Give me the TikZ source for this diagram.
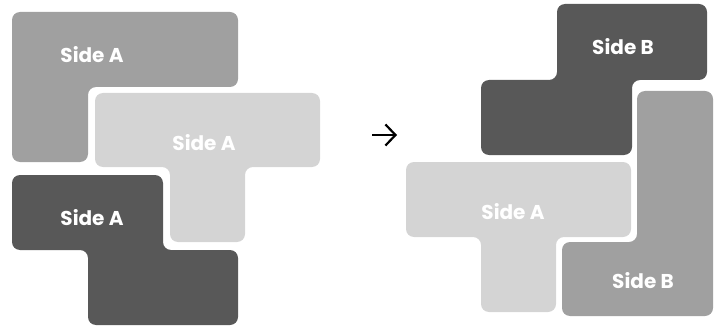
\documentclass[tikz,border=0pt]{standalone}
\usepackage{fontspec}
\setmainfont{Poppins}
\usetikzlibrary{arrows.meta}

\definecolor{tileDark}{HTML}{585858}
\definecolor{tileMid}{HTML}{A0A0A0}
\definecolor{tileLight}{HTML}{D4D4D4}

\tikzset{
  tile/.style={rounded corners=8pt},
  sidelabel/.style={text=white, font=\bfseries\fontsize{20}{24}\selectfont, inner sep=0pt},
}

\begin{document}
\begin{tikzpicture}[x=1pt, y=-1pt]
  \useasboundingbox (0,0) rectangle (720,326);

  % Before: three tiles on side A
  \fill[tile, tileMid] (12,12) -- (238,12) -- (238,87) -- (88,87) -- (88,162) -- (12,162) -- cycle;
  \fill[tile, tileLight] (95,93) -- (320,93) -- (320,167) -- (245,167) -- (245,242) -- (170,242) -- (170,167) -- (95,167) -- cycle;
  \fill[tile, tileDark] (12,175) -- (163,175) -- (163,250) -- (238,250) -- (238,325) -- (88,325) -- (88,250) -- (12,250) -- cycle;

  \node[sidelabel] (beforeMid) at (92,55) {Side A};
  \node[sidelabel] (beforeLight) at (204,143) {Side A};
  \node[sidelabel] (beforeDark) at (92,218) {Side A};

  % After: two tiles flipped to side B
  \fill[tile, tileDark] (557,4) -- (707,4) -- (707,80) -- (632,80) -- (632,155) -- (481,155) -- (481,80) -- (557,80) -- cycle;
  \fill[tile, tileLight] (406,162) -- (631,162) -- (631,237) -- (556,237) -- (556,312) -- (481,312) -- (481,237) -- (406,237) -- cycle;
  \fill[tile, tileMid] (637,91) -- (713,91) -- (713,316) -- (562,316) -- (562,242) -- (637,242) -- cycle;

  \node[sidelabel] (afterDark) at (623,47) {Side B};
  \node[sidelabel] (afterLight) at (513,212) {Side A};
  \node[sidelabel] (afterMid) at (643,281) {Side B};

  % flip arrow
  \coordinate (arrowFrom) at (372,135);
  \coordinate (arrowTo) at (397,135);
  \draw[line width=2.2pt, -{Straight Barb[length=10pt, width=21pt, line width=2.2pt]}] (arrowFrom) -- (arrowTo);
\end{tikzpicture}
\end{document}
